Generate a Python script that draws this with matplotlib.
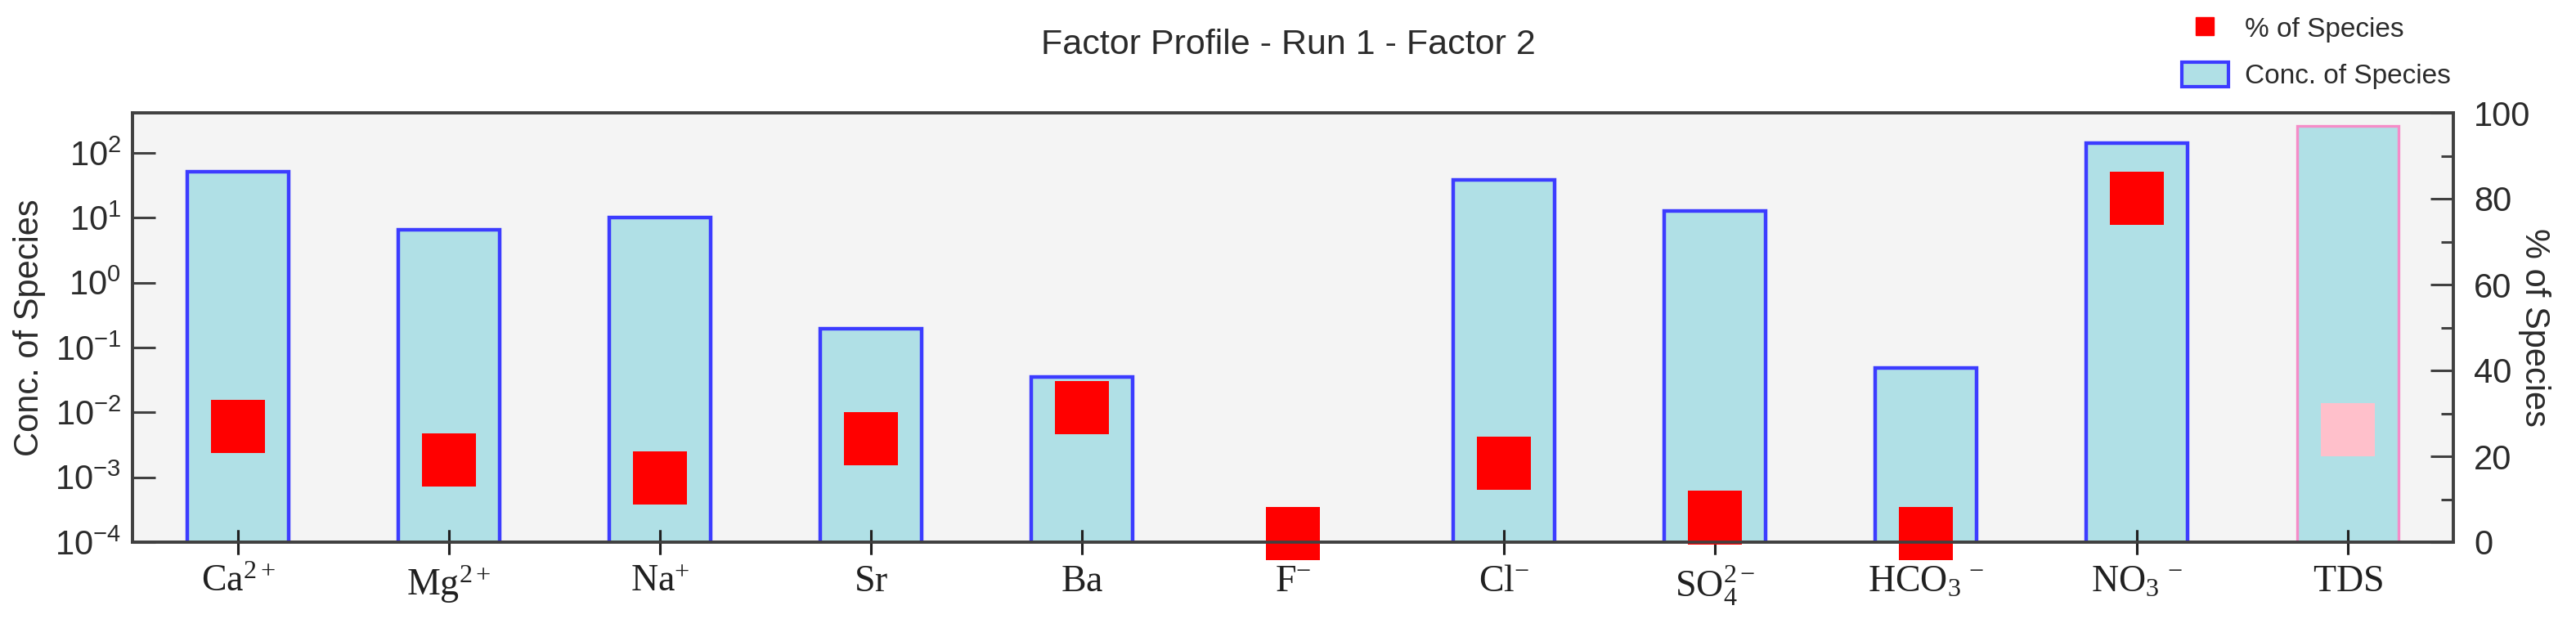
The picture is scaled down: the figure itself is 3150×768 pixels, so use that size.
import numpy as np
import matplotlib
matplotlib.use("Agg")
import matplotlib.pyplot as plt
from matplotlib.ticker import MultipleLocator, NullLocator
from matplotlib.lines import Line2D
from matplotlib.patches import Patch

# species, concentration (log axis) and % of species (linear axis)
species = ["Ca", "Mg", "Na", "Sr", "Ba", "F", "Cl", "SO4", "HCO3", "NO3", "TDS"]
tick_labels = [r"$\mathrm{Ca^{2+}}$", r"$\mathrm{Mg^{2+}}$", r"$\mathrm{Na^{+}}$",
               r"$\mathrm{Sr}$", r"$\mathrm{Ba}$", r"$\mathrm{F^{-}}$",
               r"$\mathrm{Cl^{-}}$", r"$\mathrm{SO_4^{2-}}$",
               r"$\mathrm{HCO_3\;{}^{-}}$", r"$\mathrm{NO_3\;{}^{-}}$", r"$\mathrm{TDS}$"]
conc = [52, 6.6, 10.2, 0.195, 0.035, 0, 38, 12.9, 0.048, 141, 263]
pct = [27.0, 19.2, 14.9, 24.1, 31.3, 2.0, 18.4, 5.7, 2.0, 80.1, 26.2]

plt.rcParams["font.family"] = ["Liberation Sans", "DejaVu Sans"]
plt.rcParams["mathtext.fontset"] = "custom"
plt.rcParams["mathtext.rm"] = "Liberation Serif"
plt.rcParams["mathtext.it"] = "Liberation Serif:italic"
plt.rcParams["mathtext.bf"] = "Liberation Serif:bold"

W, H = 3150, 768
fig = plt.figure(figsize=(W / 100, H / 100), dpi=100)
ax = fig.add_axes([162 / W, 1 - 663 / H, (3000 - 162) / W, (663 - 138) / H])
ax.set_facecolor("#f4f4f4")

fill = "#b0e0e6"
text_col = "#2b2b2b"
spine_col = "#404040"

x = np.arange(len(species))
conc_arr = np.array(conc, dtype=float)
mask = conc_arr > 0
edges = ["#f58cc8" if s == "TDS" else "#3c3cff" for s in species]
lws = [2.4 if s == "TDS" else 3.2 for s in species]

ax.set_yscale("log")
for xi, c, ec, lw in zip(x[mask], conc_arr[mask], np.array(edges)[mask], np.array(lws)[mask]):
    ax.bar(xi, c, width=0.48, color=fill, edgecolor=ec, linewidth=lw)
ax.set_ylim(1e-4, 10 ** 2.62)
ax.set_xlim(-0.5, 10.5)
ax.yaxis.set_minor_locator(NullLocator())
ax.set_xticks(x)
ax.set_xticklabels(tick_labels, fontsize=33, color="black")
ax.tick_params(axis="y", direction="in", length=20, width=2.2, labelsize=30,
               pad=10, colors=spine_col, labelcolor=text_col)
ax.tick_params(axis="x", direction="inout", length=22, width=2.2, pad=8,
               colors="#202020")
ax.set_ylabel("Conc. of Species", fontsize=30, color=text_col, va="center")
ax.yaxis.set_label_coords(-0.0445, 0.5)
for sp in ax.spines.values():
    sp.set_color(spine_col)
    sp.set_linewidth(2.6)

# percentage axis
ax2 = ax.twinx()
ax2.set_ylim(0, 100)
ax2.yaxis.set_major_locator(MultipleLocator(20))
ax2.yaxis.set_minor_locator(MultipleLocator(10))
sq_cols = ["pink" if s == "TDS" else "red" for s in species]
ax2.scatter(x, pct, marker="s", s=47 ** 2, c=sq_cols, linewidths=0,
            clip_on=False, zorder=2)
ax2.xaxis.set_visible(True)
ax2.tick_params(axis="x", direction="inout", length=22, width=2.2,
                labelbottom=False, colors="#202020")
ax2.tick_params(axis="y", which="major", direction="in", length=20, width=2.2,
                labelsize=30, pad=18, colors=spine_col, labelcolor=text_col)
ax2.tick_params(axis="y", which="minor", direction="in", length=11, width=2.2,
                colors=spine_col)
ax2.set_ylabel("% of Species", fontsize=30, color=text_col, rotation=-90, va="center")
ax2.yaxis.set_label_coords(1.035, 0.5)
for sp in ax2.spines.values():
    sp.set_color(spine_col)
    sp.set_linewidth(2.6)

fig.text(0.5, 1 - 55 / H, "Factor Profile - Run 1 - Factor 2", ha="center",
         va="center", fontsize=31, color=text_col)

handles = [Line2D([], [], marker="s", ls="none", color="red", ms=16),
           Patch(facecolor=fill, edgecolor="#3c3cff", linewidth=3)]
fig.legend(handles, ["% of Species", "Conc. of Species"], loc="center left",
           bbox_to_anchor=(2668 / W, 1 - 64 / H), frameon=False, fontsize=24,
           handlelength=1.7, handleheight=1.0, handletextpad=0.6,
           labelspacing=0.7, borderpad=0, borderaxespad=0, labelcolor=text_col)

fig.savefig("out.png", dpi=100)
